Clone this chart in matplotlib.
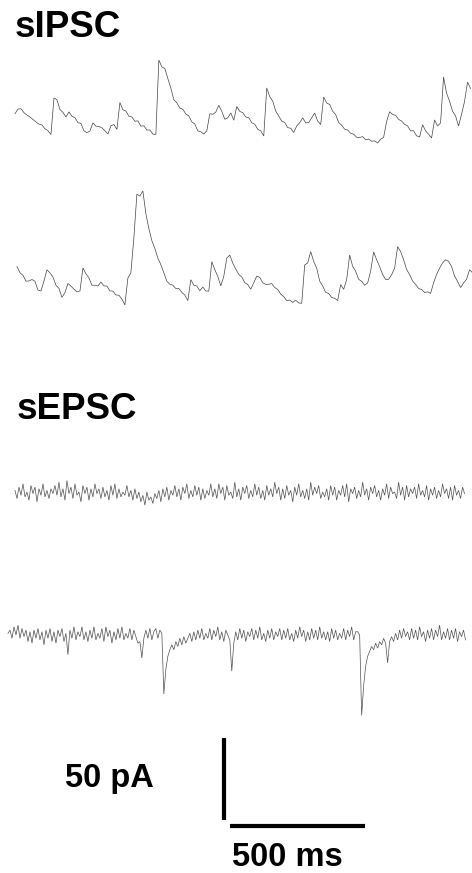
import numpy as np
import matplotlib
matplotlib.use("Agg")
import matplotlib.pyplot as plt

plt.rcParams['font.family'] = ['Liberation Sans', 'DejaVu Sans']

# ---------------- data (pA relative to each trace's baseline) ----------------
dt_ipsc = 11.1   # ms between samples (sIPSC traces)
dt_epsc = 7.4    # ms between samples (sEPSC traces)

ipsc1 = [13.0, 15.8, 16.0, 13.6, 12.1, 11.0, 9.4, 8.0, 6.6, 6.1, 3.8, 2.6, 0.3,
         22.6, 21.5, 15.6, 13.8, 11.0, 14.1, 11.4, 10.6, 7.5, 7.1, 2.6, 1.4, 2.4, 7.4, 5.4, 5.2, 4.4, 2.6, 0.6, 5.6, 6.4, 3.4,
         19.8, 15.4, 14.6, 11.5, 11.0, 8.4, 8.6, 5.4, 5.6, 3.0, 3.1, 0.5, 0.4,
         45.7, 41.5, 40.6, 34.4, 28.6, 21.5, 19.6, 16.4, 15.7, 12.8, 11.6, 8.0, 6.7, 2.5, 2.0, 0.6, 2.5,
         13.0, 12.6, 14.0, 18.1, 14.4, 9.6, 10.5, 13.5, 9.0, 17.4, 14.4, 13.6, 11.0, 10.6, 7.5, 6.6, 3.5, 2.5, -0.6,
         28.7, 23.4, 20.6, 14.5, 11.6, 8.5, 7.6, 4.5, 4.1, 1.5, 5.5, 7.5, 10.5, 7.4, 7.6, 10.5, 13.4, 8.5, 6.4,
         23.2, 19.5, 18.6, 14.5, 12.5, 7.6, 6.0, 3.5, 3.0, 1.0, 0.5, -1.4, -1.5, -1.0, -2.9, -2.5, -3.8, -3.6, -4.9, -2.6, -1.4,
         8.3, 14.2, 12.5, 12.0, 9.5, 8.5, 6.5, 5.5, 2.5, 2.6, -0.5, -1.2, 6.3, 2.5, 0.5, -1.8, 9.2, 5.5, 7.4,
         35.4, 25.5, 20.6, 14.5, 11.6, 5.5, 12.6, 20.5, 32.3, 28.3]

ipsc2 = [20.4, 16.6, 15.0, 11.5, 11.6, 12.5, 11.4, 6.0, 5.5, 11.6, 18.4, 16.5, 14.0, 9.0, 7.1, 1.6, 4.5, 10.1, 8.5, 6.6, 5.0, 5.5,
         19.5, 16.0, 13.5, 9.0, 9.0, 8.5, 11.0, 8.6, 8.5, 5.6, 5.4, 3.1, 2.9, 0.6, -3.0,
         13.4, 16.6, 38.0, 64.5, 63.4, 66.5, 52.6, 43.5, 36.2, 31.4, 25.6, 21.5, 16.6, 11.4, 9.6, 9.0, 7.0, 7.0, 4.6, 3.0, -0.4,
         12.4, 9.0, 8.5, 5.6, 7.9, 5.5, 5.4, 23.4, 18.5, 14.4, 8.6, 14.5, 25.6, 27.4, 22.5, 18.8, 15.6, 14.0, 10.6, 9.4, 6.6,
         10.5, 14.6, 13.8, 10.5, 9.5, 9.6, 10.0, 7.6, 6.4, 3.6, 2.0, -0.4, 0.0, -1.5, -0.1, -1.8, -2.0,
         21.4, 22.6, 29.5, 23.6, 19.4, 11.5, 8.5, 4.6, 4.0, 1.5, 1.0, -0.3, 9.4, 6.5, 12.5,
         27.4, 20.5, 17.5, 12.6, 11.4, 9.0, 10.4, 17.6, 29.3, 24.5, 20.4, 15.5, 12.5, 12.6, 15.4, 19.5,
         32.5, 29.6, 24.5, 18.6, 15.5, 11.6, 9.5, 7.0, 6.4, 4.6, 5.0, 4.0, 10.5, 15.6, 19.4, 22.6, 24.5, 23.6, 20.4, 14.6,
         11.4, 7.6, 10.4, 12.6, 18.4, 16.6]

epsc1 = [1, -4, 3, -2, 5, -3, 0, -5, 4, -1, 3, -6, 2, -2, 5, -3, 1, -4, 2, -1,
         4, -2, 6, -3, 2, -5, 7, -1, 3, -4, 5, -2, 0, -6, 4, -1, 3, -5, 2, -3,
         5, -1, 2, -4, 3, -3, 1, -5, 4, -2, 5, -4, 2, -3, 0, -2, 4, -3, 1, -5,
         2, -4, 0, -6, -2, -8, 0, -5, -3, -7, -1, -4, 1, -6, 2, -3, 3, -5, 1, -2,
         4, -3, 2, -5, 3, -1, 5, -4, 1, -3, 4, -2, 3, -5, 2, -4, 1, -2, 5, -3,
         2, -4, 5, -1, 3, -5, 4, -2, 0, -4, 6, -3, 2, -5, 3, -1, 4, -4, 1, -3,
         5, -2, 3, -4, 1, -5, 4, -2, 2, -3, 6, -1, 3, -5, 2, -4, 4, -2, 1, -6,
         3, -2, 5, -3, 1, -4, 2, -5, 6, -2, 3, -1, 4, -4, 0, -3, 2, -5, 4, -2,
         3, -5, 1, -2, 4, -3, 5, -6, 2, -1, 3, -4, 1, -3, 6, -2, 2, -5, 3, -1,
         4, -3, 1, -5, 2, -2, 5, -4, 3, -1, 0, -4, 6, -2, 3, -5, 4, -3, 2, -1,
         3, -4, 5, -2, 1, -3, 4, -5, 2, -2, 3, -4, 1, -3, 5, -1, 2, -4, 3, -5,
         4, -2, 1, -4, 3, -1]

epsc2 = [1, 3, -2, 5, 0, 6, -2, 4, -1, 3, -4, 2, -5, 3, -2, 4, -3, 2, -6, 3,
         -2, 4, -4, 2, -5, 3, -1, 4, -4, 1, -12, 3, -2, 5, -3, 2, -1, 5, -3, 2,
         -4, 3, -2, 5, -3, 1, -2, 4, -4, 5, -1, 3, -5, 2, -3, 4, -2, 5, -3, 1,
         -2, 4, -3, 3, -1, -5, -4, -14, -2, 3, -2, 4, -3, 2, 4, -2, 3, 1, -36, -21,
         -13, -9, -6, -9, -4, -7, -2, -6, -1, -5, -2, 1, -4, 2, -3, 3, -2, 4, -3, 1,
         -2, 4, -3, 3, -1, 5, -3, 2, -4, 3, 0, -3, -22, -5, 2, -3, 4, -2, 3, -4,
         2, -1, 4, -3, 3, -2, 5, -3, 1, -4, 3, -2, 4, -3, 2, -1, 4, -3, 3, -2,
         4, -3, 1, -4, 3, -2, 5, -1, 3, -4, 2, -3, 4, -2, 3, -3, 5, -2, 2, -3,
         2, -4, 4, -2, 3, -3, 1, -2, 4, -3, 3, -1, 5, -3, 2, 2, 0, -49, -31, -19,
         -13, -10, -7, -9, -5, -8, -4, -6, -2, -5, -17, -4, -1, -4, 1, -3, 3, -2, 4, -1,
         2, -3, 4, -2, 3, -3, 5, -1, 2, -4, 3, -2, 4, -3, 3, -1, 6, -3, 2, -2,
         4, -3, 3, -2, 4, -4, 2, -1, 3, -3]

titles = ["sIPSC", "sEPSC"]
scale_time_ms = 500
scale_current_pA = 50
scale_labels = ["50 pA", "500 ms"]

# ---------------- layout ----------------
W, H = 472, 873
PX_PER_MS = 135 / 500.0
PX_PER_PA = 82 / 50.0

def xd(px):
    return px / PX_PER_MS

def yd(py):
    return (H - py) / PX_PER_PA

fig = plt.figure(figsize=(W / 100, H / 100), dpi=100)
ax = fig.add_axes([0, 0, 1, 1])
ax.set_xlim(0, W / PX_PER_MS)
ax.set_ylim(0, H / PX_PER_PA)
ax.axis('off')

traces = [
    (ipsc1, dt_ipsc, 15, 135, '#444444', 0.5),
    (ipsc2, dt_ipsc, 17, 300, '#444444', 0.5),
    (epsc1, dt_epsc, 15, 492, '#505050', 0.5),
    (epsc2, dt_epsc, 8, 635, '#505050', 0.5),
]
for vals, dt, x0px, basepx, col, lw in traces:
    v = np.asarray(vals, dtype=float)
    t = xd(x0px) + dt * np.arange(len(v))
    ax.plot(t, yd(basepx) + v, color=col, lw=lw, solid_joinstyle='miter')

# titles
ax.text(xd(15), yd(37), titles[0], fontsize=26.5, fontweight='bold', ha='left', va='baseline')
ax.text(xd(17), yd(419), titles[1], fontsize=26.5, fontweight='bold', ha='left', va='baseline')

# scale bars
xv = xd(223.5)
yb = yd(820)
ax.plot([xv, xv], [yb, yb + scale_current_pA], color='black', lw=3, solid_capstyle='butt')
xh = xd(230)
yh = yd(826)
ax.plot([xh, xh + scale_time_ms], [yh, yh], color='black', lw=3, solid_capstyle='butt')

ax.text(xd(65), yd(787), scale_labels[0], fontsize=23.5, fontweight='bold', ha='left', va='baseline')
ax.text(xd(232), yd(866), scale_labels[1], fontsize=23.5, fontweight='bold', ha='left', va='baseline')

fig.savefig('out.png', dpi=100)
